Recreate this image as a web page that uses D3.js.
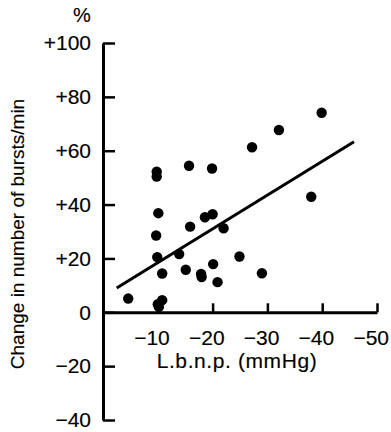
<!DOCTYPE html>
<html lang="en">
<head>
  <meta charset="UTF-8">
  <title>Bursts vs L.b.n.p.</title>
  <script src="https://cdn.jsdelivr.net/npm/d3@7"></script>
  <style>
    body { margin: 0; background: #fff; }
    text { font-family: "Liberation Sans", Arial, sans-serif; fill: #000; stroke: #000; stroke-width: 0.15px; }
  </style>
</head>
<body>
<div id="chart"></div>
<script>
// L.b.n.p. (mmHg) for each subject
const lbnp = [-27.2, -9.8, -9.8, -15.7, -19.9, -10.1, -18.6, -20.0, -15.9, -22.0,
  -9.7, -9.9, -13.9, -24.9, -10.8, -15.1, -20.1, -17.9, -18.0, -20.9,
  -29.0, -4.6, -10.0, -10.8, -10.2, -39.9, -32.1, -38.0];
// change in number of bursts/min (%)
const change = [61.3, 52.2, 50.4, 54.4, 53.4, 36.8, 35.3, 36.4, 31.8, 31.2,
  28.5, 20.5, 21.6, 20.7, 14.4, 15.8, 17.9, 14.2, 13.1, 11.2,
  14.5, 5.1, 3.0, 4.5, 2.0, 74.1, 67.7, 42.9];
// regression line end points
const fitX = [-2.5, -45.8];
const fitY = [9.0, 63.3];

const xTicks = [-10, -20, -30, -40, -50];
const yTicks = [100, 80, 60, 40, 20, 0, -20, -40];

const width = 391, height = 432;

const svg = d3.select("#chart").append("svg")
  .attr("width", width)
  .attr("height", height);

const x = d3.scaleLinear().domain([0, -50]).range([103, 377]);
const y = d3.scaleLinear().domain([-40, 100]).range([420, 43]);

// y axis, ticks pointing inwards
svg.append("g")
  .attr("transform", `translate(${x(0)},0)`)
  .call(d3.axisRight(y).tickValues(yTicks).tickSize(12).tickSizeOuter(0).tickFormat(""));

// x axis along zero, ticks pointing up
svg.append("g")
  .attr("transform", `translate(0,${y(0)})`)
  .call(d3.axisTop(x).tickValues(xTicks).tickSize(9).tickSizeOuter(0).tickFormat(""));

svg.selectAll(".domain").attr("stroke", "#000").attr("stroke-width", 3);
svg.selectAll(".tick line").attr("stroke", "#000").attr("stroke-width", 2.5);

const fmtY = d => d > 0 ? "+" + d : d < 0 ? "\u2212" + Math.abs(d) : "0";

svg.append("g").selectAll("text")
  .data(yTicks)
  .enter()
  .append("text")
  .attr("x", 91)
  .attr("y", d => y(d))
  .attr("dy", "0.35em")
  .attr("text-anchor", "end")
  .attr("font-size", 21)
  .text(fmtY);

svg.append("g").selectAll("text")
  .data(xTicks)
  .enter()
  .append("text")
  .attr("x", d => x(d) + 12)
  .attr("y", 345)
  .attr("text-anchor", "end")
  .attr("font-size", 21)
  .text(d => "\u2212" + Math.abs(d));

svg.append("text")
  .attr("x", 82)
  .attr("y", 22)
  .attr("text-anchor", "middle")
  .attr("font-size", 20)
  .text("%");

svg.append("text")
  .attr("x", 237)
  .attr("y", 368)
  .attr("text-anchor", "middle")
  .attr("font-size", 21)
  .attr("letter-spacing", 0.6)
  .text("L.b.n.p. (mmHg)");

svg.append("text")
  .attr("transform", "translate(24,234) rotate(-90)")
  .attr("text-anchor", "middle")
  .attr("font-size", 19)
  .text("Change in number of bursts/min");

// regression line
svg.append("line")
  .attr("x1", x(fitX[0]))
  .attr("y1", y(fitY[0]))
  .attr("x2", x(fitX[1]))
  .attr("y2", y(fitY[1]))
  .attr("stroke", "#000")
  .attr("stroke-width", 3);

svg.append("g").selectAll("circle")
  .data(lbnp.map((v, i) => ({ x: v, y: change[i] })))
  .enter()
  .append("circle")
  .attr("cx", d => x(d.x))
  .attr("cy", d => y(d.y))
  .attr("r", 5.2)
  .attr("fill", "#000");
</script>
</body>
</html>
